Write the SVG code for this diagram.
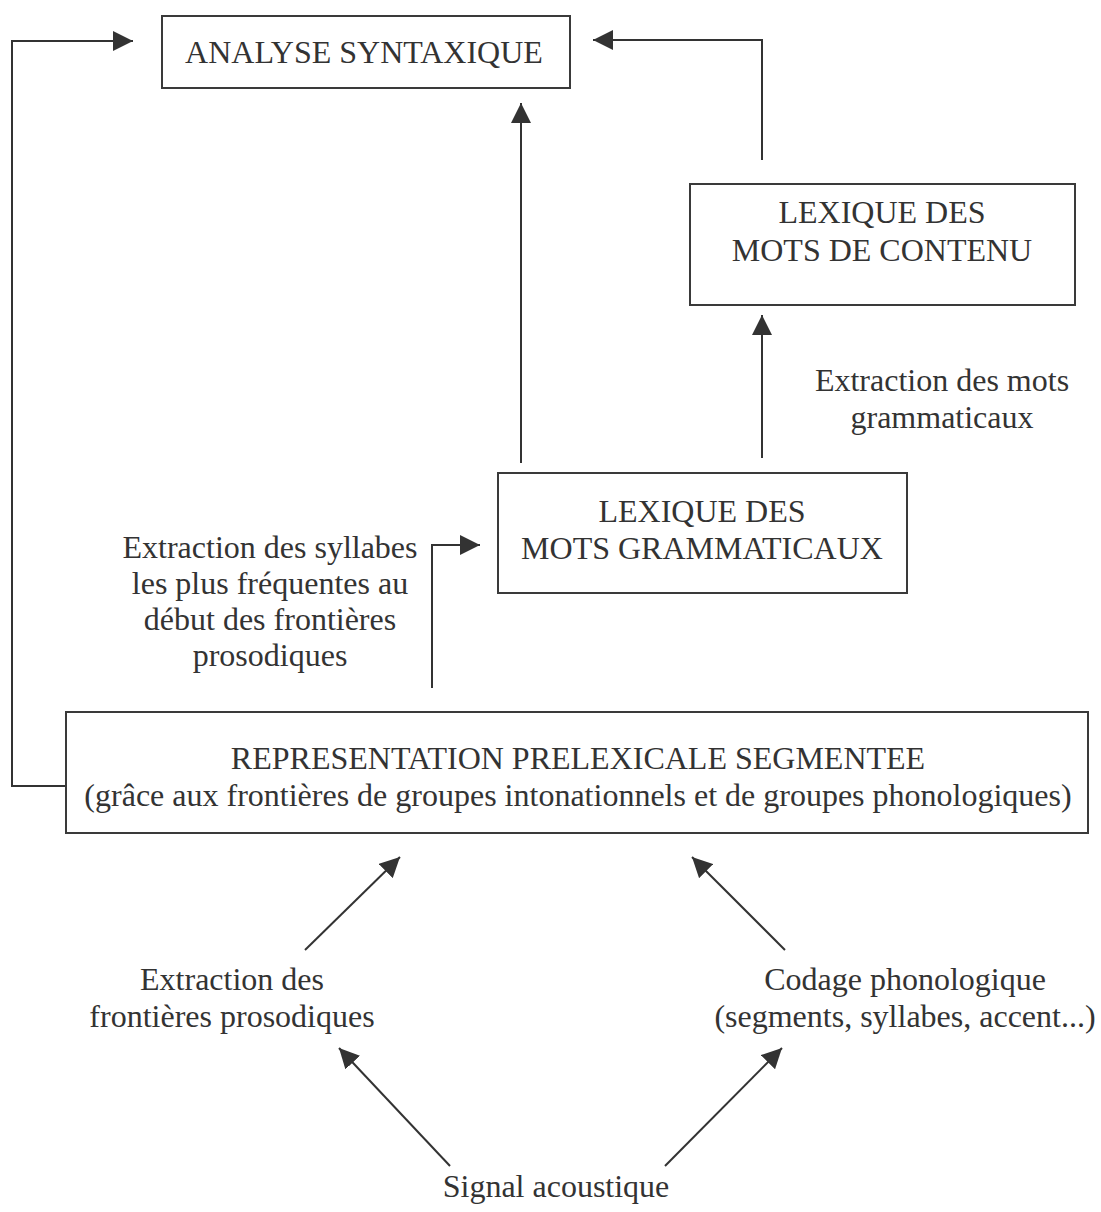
<svg xmlns="http://www.w3.org/2000/svg" width="1101" height="1212" viewBox="0 0 1101 1212">
<style>
.box{fill:#fff;stroke:#3a3a3a;stroke-width:2}
.t{font-family:"Liberation Serif","Times New Roman",serif;font-size:32px;fill:#333;text-anchor:middle}
.c{fill:none;stroke:#333;stroke-width:2}
</style>
<defs>
<marker id="ah" markerUnits="userSpaceOnUse" markerWidth="20" markerHeight="20" refX="20" refY="10" orient="auto" viewBox="0 0 20 20">
<path d="M0,0 L20,10 L0,20 Z" fill="#333"/>
</marker>
</defs>
<rect width="1101" height="1212" fill="#fff"/>
<g id="connectors">
<polyline class="c" points="66,786 12,786 12,41 133,41" marker-end="url(#ah)"/>
<polyline class="c" points="762,160 762,40 593,40" marker-end="url(#ah)"/>
<line class="c" x1="521" y1="463" x2="521" y2="103" marker-end="url(#ah)"/>
<line class="c" x1="762" y1="458" x2="762" y2="315" marker-end="url(#ah)"/>
<polyline class="c" points="432,688 432,545 480,545" marker-end="url(#ah)"/>
<line class="c" x1="305" y1="950" x2="400" y2="857" marker-end="url(#ah)"/>
<line class="c" x1="785" y1="950" x2="692" y2="857" marker-end="url(#ah)"/>
<line class="c" x1="450" y1="1166" x2="339" y2="1048" marker-end="url(#ah)"/>
<line class="c" x1="665" y1="1166" x2="782" y2="1048" marker-end="url(#ah)"/>
</g>
<g id="analyse">
<rect class="box" x="162" y="16" width="408" height="72"/>
<text class="t" x="364" y="63">ANALYSE SYNTAXIQUE</text>
</g>
<g id="lexique-contenu">
<rect class="box" x="690" y="184" width="385" height="121"/>
<text class="t" x="882" y="223">LEXIQUE DES</text>
<text class="t" x="882" y="261">MOTS DE CONTENU</text>
</g>
<g id="label-mots-gram">
<text class="t" x="942" y="391">Extraction des mots</text>
<text class="t" x="942" y="428">grammaticaux</text>
</g>
<g id="lexique-gram">
<rect class="box" x="498" y="473" width="409" height="120"/>
<text class="t" x="702" y="522">LEXIQUE DES</text>
<text class="t" x="702" y="559">MOTS GRAMMATICAUX</text>
</g>
<g id="label-syllabes">
<text class="t" x="270" y="558">Extraction des syllabes</text>
<text class="t" x="270" y="594">les plus fréquentes au</text>
<text class="t" x="270" y="630">début des frontières</text>
<text class="t" x="270" y="666">prosodiques</text>
</g>
<g id="representation">
<rect class="box" x="66" y="712" width="1022" height="121"/>
<text class="t" x="578" y="769">REPRESENTATION PRELEXICALE SEGMENTEE</text>
<text class="t" x="578" y="806">(grâce aux frontières de groupes intonationnels et de groupes phonologiques)</text>
</g>
<g id="extraction-frontieres">
<text class="t" x="232" y="990">Extraction des</text>
<text class="t" x="232" y="1027">frontières prosodiques</text>
</g>
<g id="codage">
<text class="t" x="905" y="990">Codage phonologique</text>
<text class="t" x="905" y="1027">(segments, syllabes, accent...)</text>
</g>
<g id="signal">
<text class="t" x="556" y="1197">Signal acoustique</text>
</g>
</svg>
